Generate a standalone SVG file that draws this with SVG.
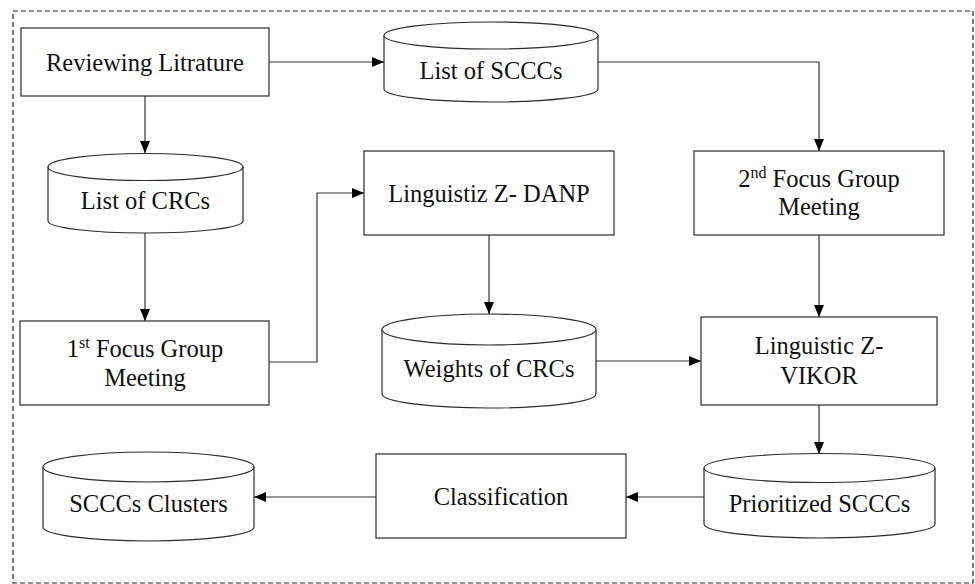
<svg xmlns="http://www.w3.org/2000/svg" width="975" height="584" viewBox="0 0 975 584">
<defs>
<style>
.box{fill:#fff;stroke:#2b2b2b;stroke-width:1.2}
.cyl{fill:#fff;stroke:#2b2b2b;stroke-width:1.2}
.con{fill:none;stroke:#333;stroke-width:1.2}
.frame{fill:none;stroke:#222;stroke-width:1.2;stroke-dasharray:5 3}
</style>
<marker id="arr" viewBox="0 0 12 10" refX="12" refY="5" markerWidth="12" markerHeight="10" markerUnits="userSpaceOnUse" orient="auto">
<path d="M0,0 L12,5 L0,10 Z" fill="#000"/>
</marker>
</defs>
<rect width="975" height="584" fill="#fff"/>
<rect class="frame" x="13" y="11" width="960" height="572"/>
<g font-family="Liberation Serif, Times New Roman, serif" font-size="24.5" fill="#111" text-anchor="middle">
<g id="n-reviewing">
<rect class="box" x="21" y="28" width="248" height="68"/>
<text x="145" y="71">Reviewing Litrature</text>
</g>

<g id="n-list-sccc">
<path class="cyl" d="M384,35.5 A107,13.5 0 0 1 598,35.5 L598,89 A107,13 0 0 1 384,89 Z"/>
<path class="cyl" d="M384,35.5 A107,13.5 0 0 0 598,35.5" fill="none"/>
<text x="491" y="79">List of SCCCs</text>
</g>

<g id="n-list-crc">
<path class="cyl" d="M48,167 A97.5,13.5 0 0 1 243,167 L243,221 A97.5,12 0 0 1 48,221 Z"/>
<path class="cyl" d="M48,167 A97.5,13.5 0 0 0 243,167" fill="none"/>
<text x="145.5" y="209">List of CRCs</text>
</g>

<g id="n-danp">
<rect class="box" x="364" y="151" width="250" height="84"/>
<text x="489" y="202">Linguistiz Z- DANP</text>
</g>

<g id="n-focus2">
<rect class="box" x="694" y="151" width="250" height="84"/>
<text x="819" y="187">2<tspan font-size="16" dy="-9">nd</tspan><tspan dy="9"> Focus Group</tspan></text>
<text x="819" y="215">Meeting</text>
</g>

<g id="n-focus1">
<rect class="box" x="20" y="321" width="249" height="84"/>
<text x="145" y="357">1<tspan font-size="16" dy="-9">st</tspan><tspan dy="9"> Focus Group</tspan></text>
<text x="145" y="386">Meeting</text>
</g>

<g id="n-weights">
<path class="cyl" d="M382,329.5 A107,15.5 0 0 1 596,329.5 L596,394 A107,14 0 0 1 382,394 Z"/>
<path class="cyl" d="M382,329.5 A107,15.5 0 0 0 596,329.5" fill="none"/>
<text x="489" y="377">Weights of CRCs</text>
</g>

<g id="n-vikor">
<rect class="box" x="701" y="317" width="236" height="88"/>
<text x="819" y="354">Linguistic Z-</text>
<text x="819" y="384">VIKOR</text>
</g>

<g id="n-prioritized">
<path class="cyl" d="M704,468 A115.5,14.5 0 0 1 935,468 L935,524 A115.5,14 0 0 1 704,524 Z"/>
<path class="cyl" d="M704,468 A115.5,14.5 0 0 0 935,468" fill="none"/>
<text x="819.5" y="512">Prioritized SCCCs</text>
</g>

<g id="n-classification">
<rect class="box" x="376" y="454" width="250" height="84"/>
<text x="501" y="505">Classification</text>
</g>

<g id="n-clusters">
<path class="cyl" d="M43,467 A105.5,15 0 0 1 254,467 L254,527 A105.5,14 0 0 1 43,527 Z"/>
<path class="cyl" d="M43,467 A105.5,15 0 0 0 254,467" fill="none"/>
<text x="148.5" y="512">SCCCs Clusters</text>
</g>
</g>
<g id="connectors">
<path class="con" d="M269,62 H384" marker-end="url(#arr)"/>
<path class="con" d="M598,62 H819 V151" marker-end="url(#arr)"/>
<path class="con" d="M145,96 V153" marker-end="url(#arr)"/>
<path class="con" d="M145,233 V321" marker-end="url(#arr)"/>
<path class="con" d="M269,362 H317 V193 H364" marker-end="url(#arr)"/>
<path class="con" d="M489,235 V314" marker-end="url(#arr)"/>
<path class="con" d="M596,361 H701" marker-end="url(#arr)"/>
<path class="con" d="M819,235 V317" marker-end="url(#arr)"/>
<path class="con" d="M819,405 V454" marker-end="url(#arr)"/>
<path class="con" d="M704,497 H626" marker-end="url(#arr)"/>
<path class="con" d="M376,497 H254" marker-end="url(#arr)"/>
</g>
</svg>
